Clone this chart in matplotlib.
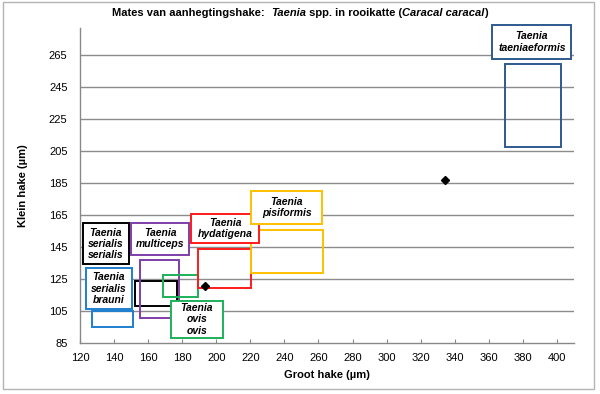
import matplotlib
matplotlib.use("Agg")
import matplotlib.pyplot as plt
from matplotlib.patches import Rectangle

plt.rcParams['font.family'] = ['Liberation Sans', 'DejaVu Sans']

# ---- data: hook size ranges (groot hake x, klein hake y) ----
species = ["Taenia\nserialis\nserialis", "Taenia\nserialis\nbrauni", "Taenia\nmulticeps",
           "Taenia\novis\novis", "Taenia\nhydatigena", "Taenia\npisiformis",
           "Taenia\ntaeniaeformis"]
groot_min = [152, 127, 155.5, 169, 189.5, 220.5, 369.5]
groot_max = [177, 151, 178, 189, 220.5, 262.5, 402.5]
klein_min = [108.5, 95.5, 101, 114, 119.5, 129, 207.5]
klein_max = [124, 105, 137, 128, 144, 155.5, 259.5]
point_groot = [193.5, 334]
point_klein = [121, 187]
xticks = list(range(120, 401, 20))
yticks = list(range(85, 266, 20))

# ---- styles / layout ----
colors = ["#000000", "#1F7FD0", "#7F3FA8", "#1DB15A", "#FF1A1A", "#FFC000", "#2F5A8F"]
# label box extents in data coordinates (xmin, xmax, ymin, ymax)
label_boxes = [(121.6, 148.7, 134.6, 159.9), (123.3, 150.6, 106.4, 131.9),
               (149.9, 184.1, 140.2, 160.5), (173.3, 203.9, 88.3, 111.6),
               (185.4, 224.9, 147.4, 165.8), (220.6, 262.1, 159.6, 180.4),
               (362.1, 408.4, 262.5, 284.0)]

W, H = 600, 394
YMAX = 282
px_per = 1.6
top_px = 343.3 - (YMAX - 85) * px_per
fig = plt.figure(figsize=(6.0, 3.94), dpi=100)
fig.patch.set_facecolor("white")
ax = fig.add_axes([80 / W, 1 - 343.3 / H, (574 - 80) / W, (343.3 - top_px) / H])

ax.set_xlim(120, 410)
ax.set_ylim(85, YMAX)
ax.set_xticks(xticks)
ax.set_yticks(yticks)
ax.tick_params(axis='x', direction='in', length=3, width=0.8, color='#888888',
               labelsize=8, pad=7)
ax.tick_params(axis='y', direction='out', length=0, labelsize=8, pad=9)
for s in ['top', 'right']:
    ax.spines[s].set_visible(False)
for s in ['left', 'bottom']:
    ax.spines[s].set_color('#888888')
    ax.spines[s].set_linewidth(1.0)
for y in yticks[1:]:
    ax.axhline(y, color='#8c8c8c', lw=1.0, zorder=1)

for i in range(len(species)):
    ax.add_patch(Rectangle((groot_min[i], klein_min[i]),
                           groot_max[i] - groot_min[i], klein_max[i] - klein_min[i],
                           fill=False, ec=colors[i], lw=1.4, zorder=3))
    x0, x1, y0, y1 = label_boxes[i]
    ax.add_patch(Rectangle((x0, y0), x1 - x0, y1 - y0, fc='white', ec=colors[i],
                           lw=1.4, zorder=4, clip_on=False))
    ax.text((x0 + x1) / 2, (y0 + y1) / 2, species[i], ha='center', va='center',
            fontsize=7.5, fontweight='bold', fontstyle='italic', linespacing=1.15,
            zorder=5, clip_on=False)

ax.plot(point_groot, point_klein, 'D', color='black', markersize=4.5, zorder=6)

ax.set_xlabel("Groot hake (µm)", fontsize=8, fontweight='bold', labelpad=5)
ax.set_ylabel("Klein hake (µm)", fontsize=8, fontweight='bold', labelpad=15)

# outer chart border
fig.patches.append(Rectangle((3 / W, 1 - 389 / H), (594 - 3) / W, (389 - 2) / H,
                             transform=fig.transFigure, fill=False,
                             ec='#b4b4b4', lw=1.0))

# mixed-style title
pieces = [("Mates van aanhegtingshake:  ", 'normal'), ("Taenia", 'italic'),
          (" spp. in rooikatte (", 'normal'), ("Caracal caracal", 'italic'), (")", 'normal')]
fig.canvas.draw()
r = fig.canvas.get_renderer()
texts = []
for s, st in pieces:
    t = fig.text(0, 1 - 13 / H, s, fontsize=8, fontweight='bold', fontstyle=st,
                 ha='left', va='center')
    texts.append(t)
widths = [t.get_window_extent(renderer=r).width for t in texts]
total = sum(widths)
x = 300 - total / 2
for t, w in zip(texts, widths):
    t.set_x(x / W)
    x += w

fig.savefig("out.png", dpi=100, facecolor="white")
